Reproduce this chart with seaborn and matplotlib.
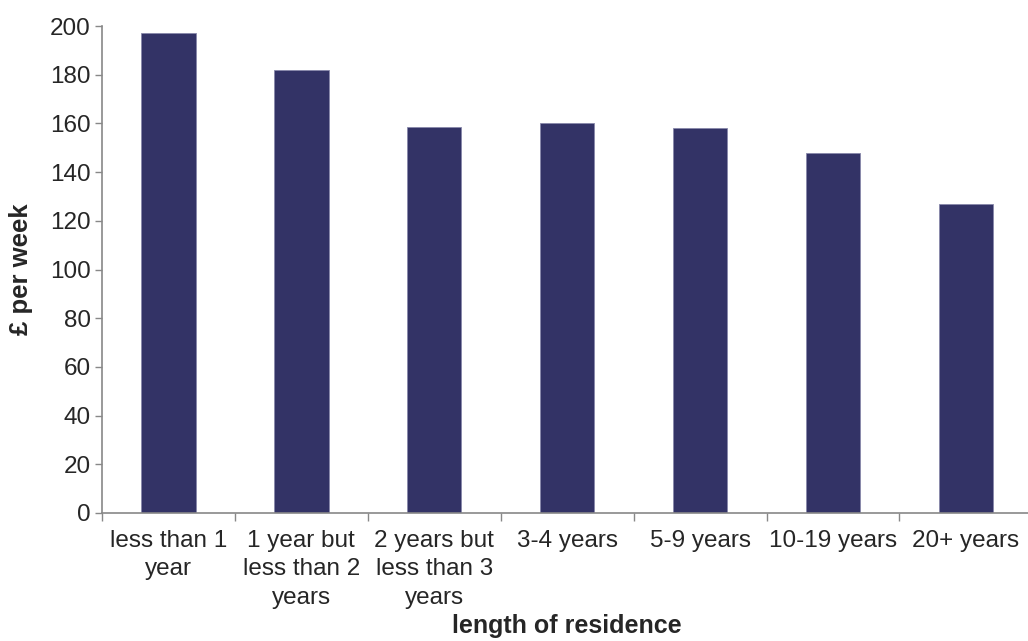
import matplotlib
matplotlib.use("Agg")
import matplotlib.pyplot as plt
import seaborn as sns
import numpy as np
import pandas as pd

# data
categories = ["less than 1\nyear", "1 year but\nless than 2\nyears", "2 years but\nless than 3\nyears",
              "3-4 years", "5-9 years", "10-19 years", "20+ years"]
values = [197, 182, 158.7, 160.3, 158, 148, 126.7]
y_ticks = [0, 20, 40, 60, 80, 100, 120, 140, 160, 180, 200]

df = pd.DataFrame({"residence": categories, "pounds": values})

sns.set_style("white")
plt.rcParams['font.family'] = ['Liberation Sans', 'DejaVu Sans']

fig = plt.figure(figsize=(10.28, 6.41), dpi=100)
ax = fig.add_axes([0.0992, 0.1997, 0.905, 0.7597])

sns.barplot(data=df, x="residence", y="pounds", color="#333366", width=0.41,
            edgecolor="#8888aa", linewidth=0.6, ax=ax, saturation=1)

ax.set_xlim(-0.5, 6.5)
ax.set_ylim(0, 200)
ax.set_yticks(y_ticks)
ax.tick_params(axis='y', labelsize=17.5, length=5, width=1, color="#888888", direction='out', left=True, pad=3)

# labels centred on bars, tick marks on the category borders
ax.set_xticks(range(len(categories)))
ax.set_xticklabels(categories, fontsize=17.5, linespacing=1.38)
ax.tick_params(axis='x', which='major', length=0, pad=12)
ax.set_xticks(np.arange(-0.5, 7, 1), minor=True)
ax.tick_params(axis='x', which='minor', length=6, width=1, color="#888888", direction='out', bottom=True)

for s in ['top', 'right']:
    ax.spines[s].set_visible(False)
for s in ['left', 'bottom']:
    ax.spines[s].set_color("#888888")
    ax.spines[s].set_linewidth(1.2)

ax.set_xlabel("length of residence", fontsize=18, fontweight='bold', labelpad=4)
ax.set_ylabel("£ per week", fontsize=18.5, fontweight='bold', labelpad=12)

fig.savefig("out.png", dpi=100)
